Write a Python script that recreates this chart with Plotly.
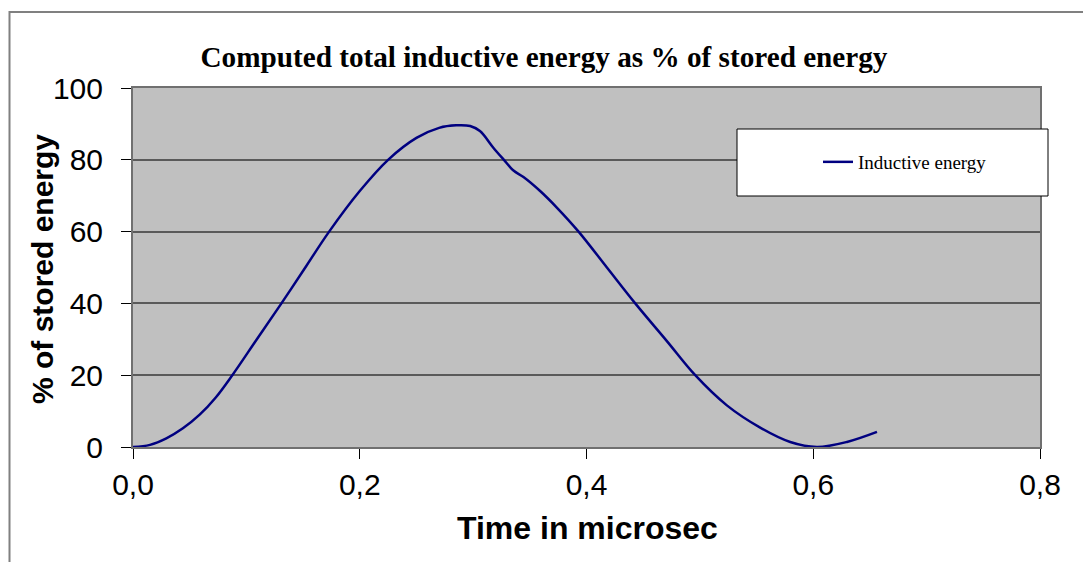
import plotly.graph_objects as go

# Time (microsec) and inductive energy (% of stored energy)
time_us = [0.0, 0.015, 0.0294, 0.044, 0.0588, 0.073, 0.0876, 0.1088, 0.1309, 0.153,
           0.173, 0.2, 0.225, 0.25, 0.27, 0.285, 0.2974, 0.306, 0.318, 0.3268,
           0.3356, 0.3444, 0.3591, 0.3738, 0.393, 0.418, 0.443, 0.4709, 0.4959,
           0.5238, 0.5532, 0.5797, 0.6032, 0.6297, 0.6562]
energy_pct = [0.0, 0.6, 2.4, 5.2, 9.0, 13.8, 20.0, 29.8, 40.0, 50.5,
              60.0, 71.3, 80.0, 86.1, 88.9, 89.6, 89.4, 88.0, 83.3, 80.1,
              77.0, 75.2, 71.3, 66.7, 60.0, 50.0, 40.0, 29.5, 20.0,
              11.6, 5.4, 1.4, 0.0, 1.4, 4.2]

x_ticks = [0.0, 0.2, 0.4, 0.6, 0.8]
y_ticks = [0, 20, 40, 60, 80, 100]

fig = go.Figure()
fig.add_trace(go.Scatter(
    x=time_us, y=energy_pct, mode="lines", name="Inductive energy",
    line=dict(color="#000080", width=2.5, shape="spline", smoothing=1.0),
))

W, H = 1083, 562
L, R, T, B = 133, 1040, 88, 447
pw, ph = R - L, B - T

def px(x):
    return (x - L) / pw

def py(y):
    return (B - y) / ph

fig.update_layout(
    width=W, height=H,
    margin=dict(l=L, r=W - R, t=T, b=H - B, pad=0),
    paper_bgcolor="white",
    plot_bgcolor="#C0C0C0",
    separators=",.",
    showlegend=True,
    title=dict(
        text="Computed total inductive energy as % of stored energy",
        font=dict(family="Liberation Serif", size=29.2, color="black", weight="bold"),
        x=544 / W, xref="container", xanchor="center",
        y=1 - 57 / H, yref="container", yanchor="middle",
    ),
    xaxis=dict(
        range=[0, 0.8], tickvals=x_ticks, tickformat=".1f",
        ticks="outside", ticklen=10, tickcolor="black", tickwidth=1,
        showgrid=False, zeroline=False,
        showline=True, linecolor="#707070", linewidth=2, mirror=True,
        tickfont=dict(family="Liberation Sans", size=30, color="black"),
    ),
    yaxis=dict(
        range=[0, 100], tickvals=y_ticks,
        ticks="outside", ticklen=10, tickcolor="black", tickwidth=1,
        ticklabelstandoff=12,
        showgrid=True, gridcolor="#5a5a5a", gridwidth=1.5, zeroline=False,
        showline=True, linecolor="#707070", linewidth=2, mirror=True,
        tickfont=dict(family="Liberation Sans", size=30, color="black"),
    ),
    legend=dict(
        x=px(818), y=py(162), xanchor="left", yanchor="middle",
        bgcolor="rgba(0,0,0,0)", borderwidth=0,
        font=dict(family="Liberation Serif", size=19, color="black"),
    ),
    annotations=[
        dict(text="<b>Time in microsec</b>", xref="paper", yref="paper",
             x=px(587), y=py(528), xanchor="center", yanchor="middle",
             showarrow=False,
             font=dict(family="Liberation Sans", size=32, color="black")),
        dict(text="<b>% of stored energy</b>", xref="paper", yref="paper",
             x=px(42), y=py(269), xanchor="center", yanchor="middle",
             textangle=-90, showarrow=False,
             font=dict(family="Liberation Sans", size=30, color="black")),
    ],
    shapes=[
        # outer chart border
        dict(type="rect", xref="paper", yref="paper",
             x0=px(9.5), x1=px(1100), y0=py(12), y1=py(600),
             line=dict(color="#808080", width=2), fillcolor="rgba(0,0,0,0)", layer="below"),
        # legend box
        dict(type="rect", xref="paper", yref="paper",
             x0=px(737), x1=px(1048), y0=py(196), y1=py(129),
             line=dict(color="black", width=1), fillcolor="white", layer="above"),
    ],
)

fig.write_html("out.html")
